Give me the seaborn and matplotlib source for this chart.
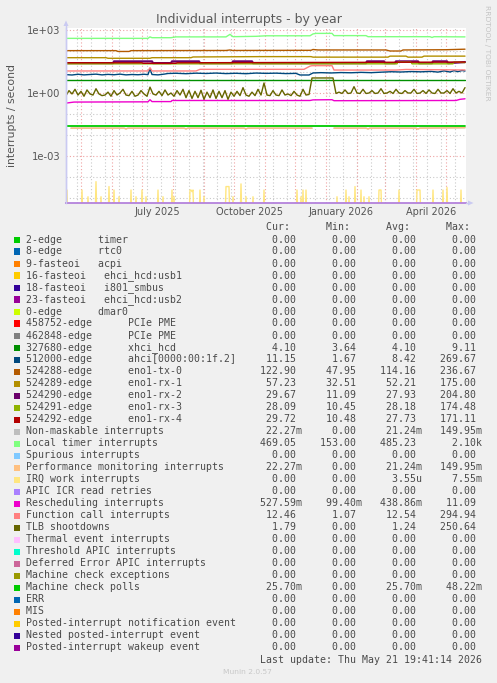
import numpy as np
import pandas as pd
import matplotlib
matplotlib.use("Agg")
import matplotlib.pyplot as plt
from matplotlib.patches import Rectangle, Polygon
from matplotlib.lines import Line2D
import seaborn as sns

sns.set_style("white")

# ---------------- data (day offsets from START, values in interrupts/s) ----------------
START = pd.Timestamp("2025-04-16")
END = pd.Timestamp("2026-05-21")

xhci_days = [0, 399]
xhci_vals = [4.1, 4.1]

ahci_days = [0, 6, 12, 18, 24, 30, 36, 42, 48, 54, 60, 66, 72, 78, 82, 84, 86, 92, 98, 102,
             110, 120, 130, 140, 150, 160, 170, 180, 190, 200, 210, 220, 230, 234, 243, 247, 255, 265, 275, 285,
             295, 305, 315, 325, 335, 345, 355, 365, 372, 378, 384, 388, 392, 396, 399]
ahci_vals = [7.5, 7.2, 7.8, 7.3, 7.6, 7.9, 7.3, 7.7, 7.4, 7.9, 7.3, 7.6, 7.4, 7.8, 7.5, 14.5, 7.6, 7.3, 7.9, 8.5,
             8.7, 8.3, 8.8, 8.5, 8.9, 8.4, 8.7, 8.3, 8.9, 8.6, 8.8, 8.4, 8.6, 7.2, 7.2, 9.0, 9.3, 9.0, 9.4, 9.2,
             9.6, 9.3, 9.8, 10.3, 10.0, 10.5, 10.2, 10.7, 9.9, 11.3, 10.0, 11.6, 10.4, 11.8, 11.1]

tx0_days = [0, 50, 52, 63, 65, 160, 164, 166, 245, 247, 252, 320, 324, 335, 337, 380, 399]
tx0_vals = [104, 104, 95, 95, 104, 106, 112, 106, 108, 118, 112, 112, 100, 100, 112, 115, 122]

rx1_days = [0, 40, 42, 84, 86, 125, 127, 195, 245, 247, 322, 324, 340, 342, 356, 358, 399]
rx1_vals = [48, 48, 45, 45, 48, 48, 52, 54, 54, 51, 51, 57, 57, 51, 51, 57, 57]

rx2_days = [0, 47, 48, 86, 87, 105, 106, 133, 134, 166, 167, 186, 187, 300, 301, 318, 319, 329, 330, 352,
            353, 366, 367, 381, 382, 399]
rx2_vals = [26.5, 26.5, 32, 32, 26.5, 26.5, 32, 32, 26.5, 26.5, 32, 32, 26.5, 26.5, 32, 32, 26.5, 26.5, 32, 32,
            26.5, 26.5, 32, 32, 26.5, 29.7]

rx3_days = [0, 331, 332, 345, 346, 387, 388, 399]
rx3_vals = [24.5, 24.5, 29.5, 29.5, 24.5, 24.5, 29.5, 28.1]

rx4_days = [0, 76, 77, 110, 111, 399]
rx4_vals = [27.5, 27.5, 26.0, 26.0, 27.5, 29.7]

perf_days_a = [5, 58, 60, 62, 118, 120, 122, 178, 180, 182, 246]
perf_vals_a = [0.0212, 0.0212, 0.0196, 0.0212, 0.0212, 0.0196, 0.0212, 0.0212, 0.0196, 0.0212, 0.0212]
perf_days_b = [268, 300, 302, 304, 350, 352, 354, 399]
perf_vals_b = [0.0212, 0.0212, 0.0196, 0.0212, 0.0212, 0.0196, 0.0212, 0.0223]

local_days = [0, 82, 84, 86, 105, 110, 160, 164, 167, 190, 200, 244, 247, 250, 266, 268, 300, 302, 364, 366, 368, 399]
local_vals = [400, 400, 470, 430, 430, 470, 470, 620, 480, 500, 530, 530, 650, 690, 690, 540, 540, 480, 480, 440, 480, 470]

irq_days = [1, 16, 22, 30, 35, 43, 48, 53, 65, 70, 76, 80, 92, 97, 106, 108, 124, 125, 126, 127,
            134, 138, 160, 161, 162, 163, 167, 175, 180, 187, 198, 231, 235, 237, 240, 271, 280, 283, 289, 295,
            298, 303, 313, 314, 315, 333, 351, 352, 353, 354, 367, 377, 381, 395]
irq_vals = [2.4e-5, 2.4e-5, 1.15e-5, 6e-5, 1.15e-5, 3.5e-5, 2.4e-5, 1.15e-5, 2.4e-5, 1.15e-5,
            2.4e-5, 1.15e-5, 2.4e-5, 1.15e-5, 2.4e-5, 1.15e-5, 2.4e-5, 2.4e-5, 2.0e-5, 2.4e-5,
            2.4e-5, 1.15e-5, 3.5e-5, 3.5e-5, 3.5e-5, 3.5e-5, 1.15e-5, 4.7e-5, 1.15e-5, 1.15e-5,
            2.4e-5, 2.4e-5, 1.15e-5, 2.4e-5, 2.4e-5, 1.15e-5, 2.4e-5, 1.15e-5, 3.5e-5, 2.4e-5,
            1.15e-5, 1.15e-5, 2.4e-5, 2.4e-5, 2.4e-5, 2.4e-5, 2.4e-5, 2.4e-5, 2.4e-5, 2.4e-5,
            2.4e-5, 2.4e-5, 3.2e-5, 2.4e-5]

resched_days = [0, 8, 82, 84, 86, 105, 106, 244, 247, 266, 268, 390, 394, 399]
resched_vals = [0.33, 0.37, 0.38, 0.48, 0.39, 0.39, 0.44, 0.44, 0.47, 0.48, 0.43, 0.44, 0.5, 0.53]

func_days = [0, 82, 84, 86, 130, 134, 238, 241, 244, 246, 266, 268, 330, 340, 399]
func_vals = [11.2, 11.2, 16, 11.2, 11.2, 13.4, 13.4, 16, 19, 20, 20, 12.4, 12.4, 13.2, 12.5]

tlb_step = 3
tlb_vals = [0.75, 1.3, 0.9, 1.5, 0.8, 1.2, 0.7, 1.4, 0.9, 0.8,
            1.6, 0.9, 0.75, 0.8, 1.1, 0.7, 1.3, 0.8, 1.0, 1.5,
            0.8, 0.75, 1.2, 0.7, 0.8, 1.3, 0.9, 0.7, 1.9, 0.9,
            0.8, 1.2, 0.75, 1.4, 0.8, 1.0, 0.7, 1.3, 0.8, 1.5,
            0.6, 1.3, 0.55, 1.2, 0.6, 1.35, 0.5, 1.1, 0.6, 1.4, 0.55, 1.2, 0.6, 1.3, 0.5, 1.1,
            0.7, 1.2, 0.75, 1.8, 0.8, 0.7, 1.1, 0.75, 1.5, 0.8, 3.0, 0.8, 0.75, 1.3, 0.8, 0.75,
            1.4, 0.8, 0.9, 0.75, 1.2, 0.8, 0.7, 1.5, 0.8, 0.85,
            5.2, 5.2, 5.2, 5.25, 5.2, 5.2, 5.2, 5.2,
            0.95, 1.1, 0.95, 1.4, 0.95, 1.0, 2.0, 1.0, 0.95, 1.5,
            0.95, 1.0, 1.3, 0.95, 1.0, 1.6, 0.95, 1.0, 1.2, 0.95,
            1.5, 1.0, 0.95, 1.3, 1.0, 1.0, 1.5, 0.95, 1.0, 1.3,
            0.95, 1.4, 1.0, 0.95, 1.5, 1.0, 1.0, 1.3, 0.95, 1.6,
            1.0, 1.2, 1.0, 1.8]

mcp_days = [0, 399]
mcp_vals = [0.0257, 0.0257]

# ---------------- legend table ----------------
labels = ["2-edge      timer", "8-edge      rtc0", "9-fasteoi   acpi", "16-fasteoi   ehci_hcd:usb1",
          "18-fasteoi   i801_smbus", "23-fasteoi   ehci_hcd:usb2", "0-edge      dmar0",
          "458752-edge      PCIe PME", "462848-edge      PCIe PME", "327680-edge      xhci_hcd",
          "512000-edge      ahci[0000:00:1f.2]", "524288-edge      eno1-tx-0", "524289-edge      eno1-rx-1",
          "524290-edge      eno1-rx-2", "524291-edge      eno1-rx-3", "524292-edge      eno1-rx-4",
          "Non-maskable interrupts", "Local timer interrupts", "Spurious interrupts",
          "Performance monitoring interrupts", "IRQ work interrupts", "APIC ICR read retries",
          "Rescheduling interrupts", "Function call interrupts", "TLB shootdowns",
          "Thermal event interrupts", "Threshold APIC interrupts", "Deferred Error APIC interrupts",
          "Machine check exceptions", "Machine check polls", "ERR", "MIS",
          "Posted-interrupt notification event", "Nested posted-interrupt event",
          "Posted-interrupt wakeup event"]
colors = ["#00CC00", "#0066B3", "#FF8000", "#FFCC00", "#330099", "#990099", "#CCFF00", "#FF0000",
          "#808080", "#008F00", "#00487D", "#B35A00", "#B38F00", "#6B006B", "#8FB300", "#B30000",
          "#BEBEBE", "#80FF80", "#80C9FF", "#FFC080", "#FFE680", "#AA80FF", "#EE00CC", "#FF8080",
          "#666600", "#FFBFFF", "#00FFCC", "#CC6699", "#999900", "#00CC00", "#0066B3", "#FF8000",
          "#FFCC00", "#330099", "#990099"]
cur = ["0.00"] * 9 + ["4.10", "11.15", "122.90", "57.23", "29.67", "28.09", "29.72", "22.27m", "469.05",
                      "0.00", "22.27m", "0.00", "0.00", "527.59m", "12.46", "1.79", "0.00", "0.00", "0.00",
                      "0.00", "25.70m", "0.00", "0.00", "0.00", "0.00", "0.00"]
mins = ["0.00"] * 9 + ["3.64", "1.67", "47.95", "32.51", "11.09", "10.45", "10.48", "0.00", "153.00",
                       "0.00", "0.00", "0.00", "0.00", "99.40m", "1.07", "0.00", "0.00", "0.00", "0.00",
                       "0.00", "0.00", "0.00", "0.00", "0.00", "0.00", "0.00"]
avgs = ["0.00"] * 9 + ["4.10", "8.42", "114.16", "52.21", "27.93", "28.18", "27.73", "21.24m", "485.23",
                       "0.00", "21.24m", "3.55u", "0.00", "438.86m", "12.54", "1.24", "0.00", "0.00", "0.00",
                       "0.00", "25.70m", "0.00", "0.00", "0.00", "0.00", "0.00"]
maxs = ["0.00"] * 9 + ["9.11", "269.67", "236.67", "175.00", "204.80", "174.48", "171.11", "149.95m", "2.10k",
                       "0.00", "149.95m", "7.55m", "0.00", "11.09", "294.94", "250.64", "0.00", "0.00", "0.00",
                       "0.00", "48.22m", "0.00", "0.00", "0.00", "0.00", "0.00"]

y_tick_vals = [1e-3, 1e0, 1e3]
y_tick_labels = ["1e-03", "1e+00", "1e+03"]
x_label_dates = ["2025-07-16", "2025-10-16", "2026-01-16", "2026-04-16"]
x_label_texts = ["July 2025", "October 2025", "January 2026", "April 2026"]

# ---------------- figure ----------------
W, H = 497, 683
BG = "#F0F0F0"
fig = plt.figure(figsize=(W / 100, H / 100), dpi=100, facecolor=BG)


def fx(x):
    return x / W


def fy(y):
    return 1 - y / H


TOP_PX, BOT_PX = 27.5, 203.0
ax = fig.add_axes([fx(66), fy(BOT_PX), fx(400), (BOT_PX - TOP_PX) / H])
ax.set_facecolor("white")
ax.set_yscale("log")
DEC = 21.0  # pixels per decade
YMAX = 10 ** (3 + (30 - TOP_PX) / DEC)
YMIN = 10 ** (-3 - (BOT_PX - 156) / DEC)
ax.set_ylim(YMIN, YMAX)
ax.set_xlim(START, END)

# grid
for e in range(-5, 4):
    major = e in (-3, 0, 3)
    ax.axhline(10.0 ** e, color="#EFA3A3" if major else "#C9C9C9", lw=0.8,
               ls=(0, (1, 2)), zorder=0.5)
for d in pd.date_range("2025-04-27", END, freq="14D"):
    ax.axvline(d, color="#C9C9C9", lw=0.8, ls=(0, (1, 2)), zorder=0.5)
for d in pd.date_range("2025-05-01", END, freq="MS"):
    ax.axvline(d, color="#EFA3A3", lw=0.8, ls=(0, (1, 2)), zorder=0.6)


def to_dates(days):
    return START + pd.to_timedelta(np.asarray(days, dtype=float), unit="D")


def draw(days, vals, color, lw=1.0):
    sns.lineplot(x=to_dates(days), y=np.asarray(vals, dtype=float), ax=ax, color=color,
                 lw=lw, estimator=None, sort=False, legend=False)


# drawing order follows legend order (later on top)
draw(xhci_days, xhci_vals, "#008F00")
draw(ahci_days, ahci_vals, "#00487D")
draw(tx0_days, tx0_vals, "#B35A00")
draw(rx1_days, rx1_vals, "#B38F00")
draw(rx2_days, rx2_vals, "#6B006B", lw=1.6)
draw(rx3_days, rx3_vals, "#8FB300")
draw(rx4_days, rx4_vals, "#B30000")
draw(perf_days_a, perf_vals_a, "#BEBEBE")
draw(perf_days_b, perf_vals_b, "#BEBEBE")
draw(local_days, local_vals, "#80FF80")
draw(perf_days_a, perf_vals_a, "#FFC080")
draw(perf_days_b, perf_vals_b, "#FFC080")

irq_daily = np.zeros(400)
irq_daily[np.array(irq_days)] = irq_vals
irq_plot = np.where(irq_daily > 0, irq_daily, YMIN / 10)
draw(np.arange(400), irq_plot, "#FFE680")

draw(resched_days, resched_vals, "#EE00CC")
draw(func_days, func_vals, "#FF8080")
draw(np.arange(0, 400, tlb_step), tlb_vals, "#666600")
draw(mcp_days, mcp_vals, "#00CC00", lw=1.3)

ax.set_xlim(START, END)
ax.set_ylim(YMIN, YMAX)

# axes decoration
for s in ("top", "right"):
    ax.spines[s].set_visible(False)
ax.spines["left"].set_color("#CACAF2")
ax.spines["left"].set_linewidth(1.0)
ax.spines["bottom"].set_color("#B482DC")
ax.spines["bottom"].set_linewidth(1.3)

ax.set_yticks(y_tick_vals)
ax.set_yticklabels(y_tick_labels)
ax.yaxis.set_minor_locator(matplotlib.ticker.NullLocator())
ax.set_xticks(pd.to_datetime(x_label_dates))
ax.set_xticklabels(x_label_texts)
ax.xaxis.set_minor_locator(matplotlib.ticker.NullLocator())
ax.tick_params(axis="y", length=0, pad=4, labelsize=7.2, labelcolor="#555555")
ax.tick_params(axis="x", length=0, pad=3, labelsize=7.0, labelcolor="#555555")
ax.set_xlabel("")
ax.set_ylabel("")
fig.text(fx(11.7), fy(115.3), "interrupts / second", rotation=90, ha="center", va="center",
         fontsize=7.8, color="#555555")

# axis arrows
fig.add_artist(Line2D([fx(66), fx(66)], [fy(BOT_PX), fy(24)], color="#CACAF2", lw=1.0))
fig.add_artist(Polygon([[fx(63.5), fy(26)], [fx(68.5), fy(26)], [fx(66), fy(20.5)]],
                       closed=True, color="#CACAF2", lw=0))
fig.add_artist(Line2D([fx(466), fx(469)], [fy(BOT_PX), fy(BOT_PX)], color="#CACAF2", lw=1.0))
fig.add_artist(Polygon([[fx(468), fy(200.5)], [fx(468), fy(205.5)], [fx(473.5), fy(203)]],
                       closed=True, color="#CACAF2", lw=0))

# title & side text
fig.text(0.5, fy(19.3), "Individual interrupts - by year", ha="center", va="center",
         fontsize=9, color="#5a5a5a")
fig.text(fx(487.5), fy(5), "RRDTOOL / TOBI OETIKER", rotation=270, ha="center", va="top",
         fontsize=5.4, color="#C4C4C4")

# legend table
MONO = "DejaVu Sans Mono"
FS = 7.15
TXT = "#4a4a4a"
X0 = 26.3


def fmt(v):
    if v[-1].isalpha():
        num, suf = v[:-1], v[-1]
    else:
        num, suf = v, " "
    return f"{num:>6}{suf}"


header = " " * 40 + "Cur:" + " " * 6 + "Min:" + " " * 6 + "Avg:" + " " * 6 + "Max:"
fig.text(fx(X0), fy(227.3), header, ha="left", va="center", family=MONO, fontsize=FS, color=TXT)

for i, lab in enumerate(labels):
    yc = 239.5 + 12.0 * i
    row = f"{lab:<39}{fmt(cur[i])}   {fmt(mins[i])}   {fmt(avgs[i])}   {fmt(maxs[i])}"
    fig.text(fx(X0), fy(yc), row, ha="left", va="center", family=MONO, fontsize=FS, color=TXT)
    fig.add_artist(Rectangle((fx(14), fy(yc + 3)), fx(6), 6 / H, facecolor=colors[i],
                             edgecolor="none", transform=fig.transFigure))

fig.text(fx(482.5), fy(659.7), "Last update: Thu May 21 19:41:14 2026", ha="right", va="center",
         family=MONO, fontsize=FS, color=TXT)
fig.text(fx(247.7), fy(671.7), "Munin 2.0.57", ha="center", va="center", fontsize=5.4,
         color="#C8C8C8")

fig.savefig("out.png", dpi=100, facecolor=BG)
